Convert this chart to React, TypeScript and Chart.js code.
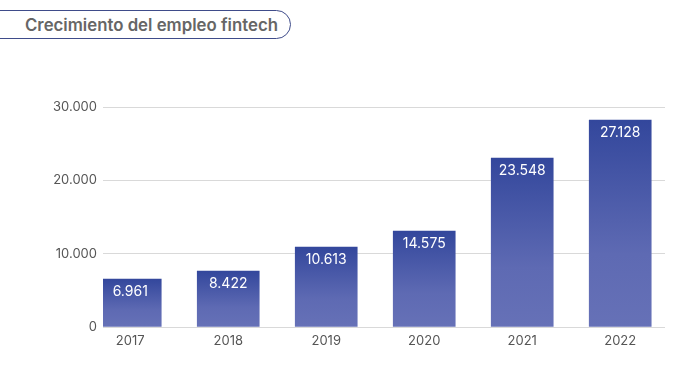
import React, { useEffect, useRef } from 'react';
import { Chart, registerables } from 'chart.js';

Chart.register(...registerables);

const years = [2017, 2018, 2019, 2020, 2021, 2022];
const barValues = [6545, 7636, 10909, 13091, 23045, 28227];
const valueLabels = ['6.961', '8.422', '10.613', '14.575', '23.548', '27.128'];
const yMax = 30000;
const yStep = 10000;
const titleText = 'Crecimiento del empleo fintech';

const fmt = (v: number) => String(Math.round(v)).replace(/\B(?=(\d{3})+(?!\d))/g, '.');

const FONT = 'Inter, "Noto Sans", sans-serif';

const valueLabelPlugin = {
  id: 'valueLabels',
  afterDatasetsDraw(chart: any) {
    const ctx = chart.ctx;
    const meta = chart.getDatasetMeta(0);
    ctx.save();
    ctx.fillStyle = '#ffffff';
    ctx.font = `400 14px ${FONT}`;
    ctx.textAlign = 'center';
    ctx.textBaseline = 'middle';
    meta.data.forEach((bar: any, i: number) => {
      ctx.fillText(valueLabels[i], bar.x, bar.y + 13);
    });
    ctx.restore();
  },
};

export default function App() {
  const ref = useRef<HTMLCanvasElement | null>(null);

  useEffect(() => {
    document.body.style.margin = '0';
    if (!ref.current) return;
    const chart = new Chart(ref.current, {
      type: 'bar',
      data: {
        datasets: [
          {
            data: years.map((y, i) => ({ x: y, y: barValues[i] })),
            barThickness: 62,
            backgroundColor: (c: any) => {
              const ch = c.chart;
              const ys = ch.scales && ch.scales.y;
              if (!ch.chartArea || !ys || !c.raw) return '#4a5aa8';
              const top = ys.getPixelForValue(c.raw.y);
              const base = ys.getPixelForValue(0);
              const g = ch.ctx.createLinearGradient(0, top, 0, base);
              g.addColorStop(0, '#33479c');
              g.addColorStop(0.65, '#5e6ab3');
              g.addColorStop(1, '#6671b7');
              return g;
            },
            borderWidth: 0,
          },
        ],
      },
      options: {
        animation: false,
        responsive: false,
        maintainAspectRatio: false,
        layout: { padding: { top: 107, right: 11, bottom: 0, left: 0 } },
        plugins: {
          legend: { display: false },
          tooltip: { enabled: false },
        },
        scales: {
          x: {
            type: 'linear',
            offset: false,
            min: 2016.722,
            max: 2022.457,
            grid: { display: false, drawTicks: false },
            border: { display: false },
            afterFit: (s: any) => {
              s.height = 38;
            },
            ticks: {
              stepSize: 1,
              includeBounds: false,
              padding: 6,
              color: '#555555',
              font: { family: FONT, size: 13 },
              callback: (v: any) => String(v),
            },
          },
          y: {
            min: 0,
            max: yMax,
            grid: { color: '#d9d9d9', drawTicks: false, lineWidth: 1 },
            border: { display: false },
            afterFit: (s: any) => {
              s.width = 103;
            },
            ticks: {
              stepSize: yStep,
              padding: 6,
              color: '#555555',
              font: { family: FONT, size: 13 },
              callback: (v: any) => fmt(Number(v)),
            },
          },
        },
      },
      plugins: [valueLabelPlugin],
    } as any);
    return () => chart.destroy();
  }, []);

  return (
    <div style={{ position: 'relative', width: 676, height: 365, background: '#fff', overflow: 'hidden' }}>
      <div
        style={{
          position: 'absolute',
          left: -20,
          top: 10,
          width: 311,
          height: 29,
          boxSizing: 'border-box',
          border: '1.5px solid #3f4c8a',
          borderRadius: 15,
          display: 'flex',
          alignItems: 'center',
          paddingLeft: 44,
          fontFamily: FONT,
          fontWeight: 600,
          fontSize: 16.8,
          color: '#666666',
          whiteSpace: 'nowrap',
        }}
      >
        {titleText}
      </div>
      <canvas ref={ref} width={676} height={365} style={{ position: 'absolute', left: 0, top: 0 }} />
    </div>
  );
}
